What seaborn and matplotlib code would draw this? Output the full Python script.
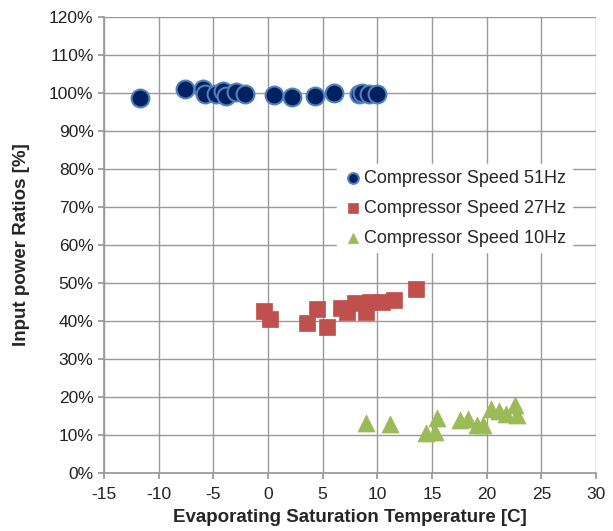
import matplotlib
matplotlib.use("Agg")
import matplotlib.pyplot as plt
import seaborn as sns
import pandas as pd
from matplotlib.ticker import PercentFormatter

x51 = [-11.7, -7.6, -5.9, -5.8, -4.8, -4.1, -3.8, -2.9, -2.1, 0.55, 2.2, 4.3, 6.0, 8.3, 8.6, 9.2, 9.95]
y51 = [98.6, 101.0, 101.0, 99.7, 99.7, 100.6, 99.2, 100.3, 99.7, 99.5, 99.0, 99.2, 100.0, 99.7, 100.0, 99.7, 99.7]

x27 = [-0.36, 0.19, 3.55, 4.5, 5.4, 6.7, 7.2, 8.0, 9.0, 9.3, 10.4, 11.5, 13.5]
y27 = [42.7, 40.4, 39.6, 43.1, 38.3, 43.3, 42.5, 44.7, 42.5, 45.1, 45.1, 45.5, 48.3]

x10 = [8.97, 11.2, 14.46, 15.3, 15.5, 17.6, 18.3, 19.1, 19.7, 20.4, 21.1, 21.75, 22.6, 22.8]
y10 = [13.2, 12.8, 10.4, 10.9, 14.4, 13.9, 14.2, 12.6, 12.6, 16.8, 16.3, 15.5, 17.9, 15.3]

series_names = ["Compressor Speed 51Hz", "Compressor Speed 27Hz", "Compressor Speed 10Hz"]

df = pd.concat([
    pd.DataFrame({"x": x51, "y": y51, "s": series_names[0]}),
    pd.DataFrame({"x": x27, "y": y27, "s": series_names[1]}),
    pd.DataFrame({"x": x10, "y": y10, "s": series_names[2]}),
])

sns.set_theme(style="white")
plt.rcParams["font.family"] = ["Liberation Sans", "DejaVu Sans"]
plt.rcParams["axes.unicode_minus"] = False

fig = plt.figure(figsize=(6.13, 5.31), dpi=100)
ax = fig.add_axes([104/613, 1-473/531, (596-104)/613, (473-17)/531])

styles = {
    series_names[0]: dict(marker="o", color="#002060", edgecolor="#4f81bd", s=165, linewidth=1.5),
    series_names[1]: dict(marker="s", color="#c0504d", edgecolor="#c0504d", s=140, linewidth=0.5),
    series_names[2]: dict(marker="^", color="#9bbb59", edgecolor="#9bbb59", s=150, linewidth=0.5),
}
for name in series_names:
    sub = df[df["s"] == name]
    st = styles[name]
    sns.scatterplot(data=sub, x="x", y="y", ax=ax, label=name, zorder=3, **st)

ax.set_xlim(-15, 30)
ax.set_ylim(0, 120)
ax.set_xticks(range(-15, 31, 5))
ax.set_yticks(range(0, 121, 10))
ax.yaxis.set_major_formatter(PercentFormatter(decimals=0))
ax.grid(True, color="#999999", linewidth=1)
ax.set_axisbelow(True)
for sp in ["top", "right"]:
    ax.spines[sp].set_visible(False)
for sp in ["left", "bottom"]:
    ax.spines[sp].set_color("#999999")
ax.tick_params(axis="both", which="both", length=4, color="#999999", labelsize=12.5, labelcolor="#222222", direction="out", left=True, bottom=True)
ax.tick_params(axis="x", pad=6)
ax.set_xlabel("Evaporating Saturation Temperature [C]", fontsize=13.5, fontweight="bold")
ax.set_ylabel("Input power Ratios [%]", fontsize=13.5, fontweight="bold")
ax.xaxis.set_label_coords(0.5, -0.078)
ax.yaxis.set_label_coords(-0.15, 0.5)

leg = ax.legend(loc="upper left", bbox_to_anchor=(0.455, 0.697), frameon=True, fontsize=13,
                handletextpad=0.0, borderpad=0.3, labelspacing=0.72, markerscale=0.6,
                handlelength=1.2)
leg.get_frame().set_edgecolor("white")
leg.get_frame().set_facecolor("white")
leg.get_frame().set_alpha(1)

fig.savefig("out.png", dpi=100)
